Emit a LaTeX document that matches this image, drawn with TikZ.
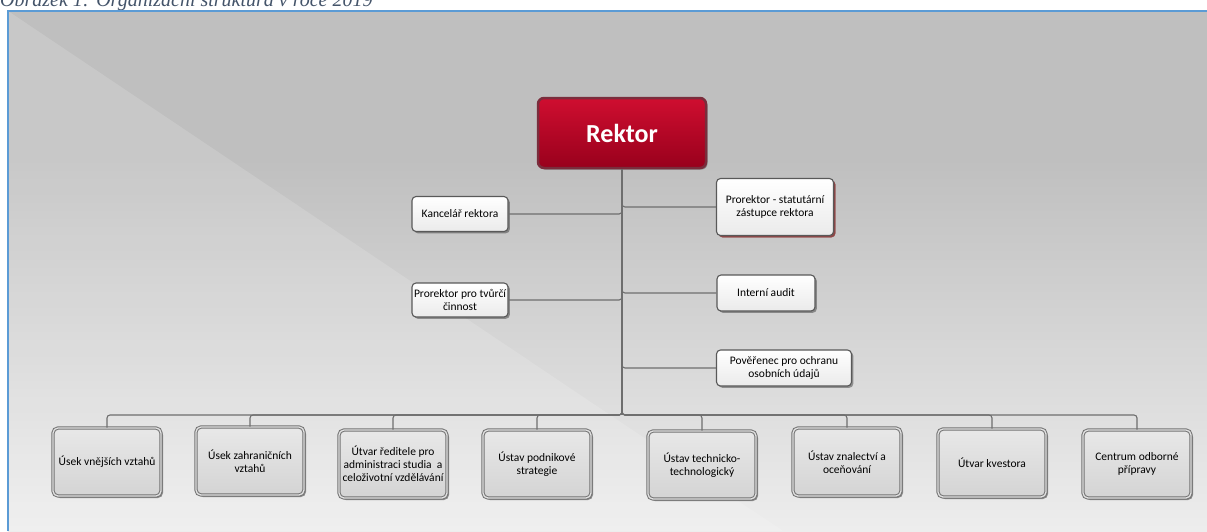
\documentclass[tikz,border=0pt]{standalone}
\usepackage{fontspec}
\setmainfont{Carlito}
\newfontfamily\capfont{Liberation Serif}
\usetikzlibrary{shadows}

\definecolor{frameblue}{HTML}{5B9BD5}
\definecolor{capblue}{HTML}{44546A}
\definecolor{linegray}{HTML}{6E6E6E}
\definecolor{boxedge}{HTML}{595959}
\definecolor{redtop}{HTML}{CF0E30}
\definecolor{redbot}{HTML}{98001C}
\definecolor{rededge}{HTML}{7A2D3C}

\tikzstyle{conn}=[draw=linegray,line width=1.1pt,rounded corners=3pt]
\tikzstyle{staff}=[rectangle,rounded corners=4pt,draw=boxedge,line width=1.1pt,top color=white,bottom color=black!8,align=center,inner sep=2pt,font=\fontsize{11.5}{13}\selectfont,drop shadow={shadow xshift=1.8pt,shadow yshift=-1.8pt,fill=black,opacity=0.35}]
\tikzstyle{unit}=[rectangle,rounded corners=5pt,draw=black!55,double=black!12,double distance=1.3pt,line width=1pt,top color=black!9,bottom color=black!17,minimum width=108pt,minimum height=68pt,align=center,inner sep=1pt,font=\fontsize{11.5}{13}\selectfont,drop shadow={shadow xshift=2pt,shadow yshift=-2pt,fill=black,opacity=0.4}]

\begin{document}
\begin{tikzpicture}[x=1pt,y=-1pt]
          \useasboundingbox (0,0) rectangle (1207,531);
          \clip (0,0) rectangle (1207,531);
          \fill[white] (0,0) rectangle (1207,531);
          \node[anchor=base west,inner sep=0pt,text=capblue,font=\capfont\itshape\fontsize{20}{20}\selectfont] (caption) at (0,6) {Obrázek 1: Organizační struktura v roce 2019};

          \fill[black!25] (8,11) rectangle (1207,160);
          \shade[top color=black!25,bottom color=black!7] (8,160) rectangle (1207,531);
          \fill[white,opacity=0.15] (8,11) -- (783,531) -- (8,531) -- cycle;
          \draw[frameblue,line width=2pt] (8,531) -- (8,11) -- (1207,11);

          \node (rektor) at (622,133) [rectangle,rounded corners=6pt,draw=rededge,line width=2.5pt,top color=redtop,bottom color=redbot,minimum width=168pt,minimum height=70pt,text=white,font=\bfseries\fontsize{26}{28}\selectfont,drop shadow={shadow xshift=1.5pt,shadow yshift=-1.5pt,fill=black,opacity=0.3}] {Rektor};

          \node (kancelar) at (460,214) [staff,minimum width=96pt,minimum height=35pt] {Kancelář rektora};
          \node (tvorba) at (460,300) [staff,minimum width=96pt,minimum height=34pt] {Prorektor pro tvůrčí\\činnost};
          \node (statutar) at (775,207) [staff,minimum width=117pt,minimum height=57pt,drop shadow={shadow xshift=2pt,shadow yshift=-2pt,fill=red!60!black,opacity=0.45}] {Prorektor - statutární\\zástupce rektora};
          \node (audit) at (766,293) [staff,minimum width=98pt,minimum height=36pt] {Interní audit};
          \node (poverenec) at (784,368) [staff,minimum width=135pt,minimum height=36pt] {Pověřenec pro ochranu\\osobních údajů};

          \coordinate (bus) at (622,415);

          \foreach \n in {kancelar,tvorba}{
            \draw[conn] (\n.east) -| (rektor.south);
          }
          \foreach \n in {statutar,audit,poverenec}{
            \draw[conn] (rektor.south) |- (\n.west);
          }

          \foreach \i/\x/\y/\txt in {1/107/462/{Úsek vnějších vztahů},2/250/461/{Úsek zahraničních\\vztahů},3/393/464/{Útvar ředitele pro\\administraci studia~ a\\celoživotní vzdělávání},4/537/464/{Ústav podnikové\\strategie},5/702/465/{Ústav technicko-\\technologický},6/847/462/{Ústav znalectví a\\oceňování},7/992/463/{Útvar kvestora},8/1137/464/{Centrum odborné\\přípravy}}{
            \node (u\i) at (\x,\y) [unit] {\txt};
            \draw[conn] (rektor.south) -- (bus) -| (u\i.north);
          }
        \end{tikzpicture}
\end{document}
